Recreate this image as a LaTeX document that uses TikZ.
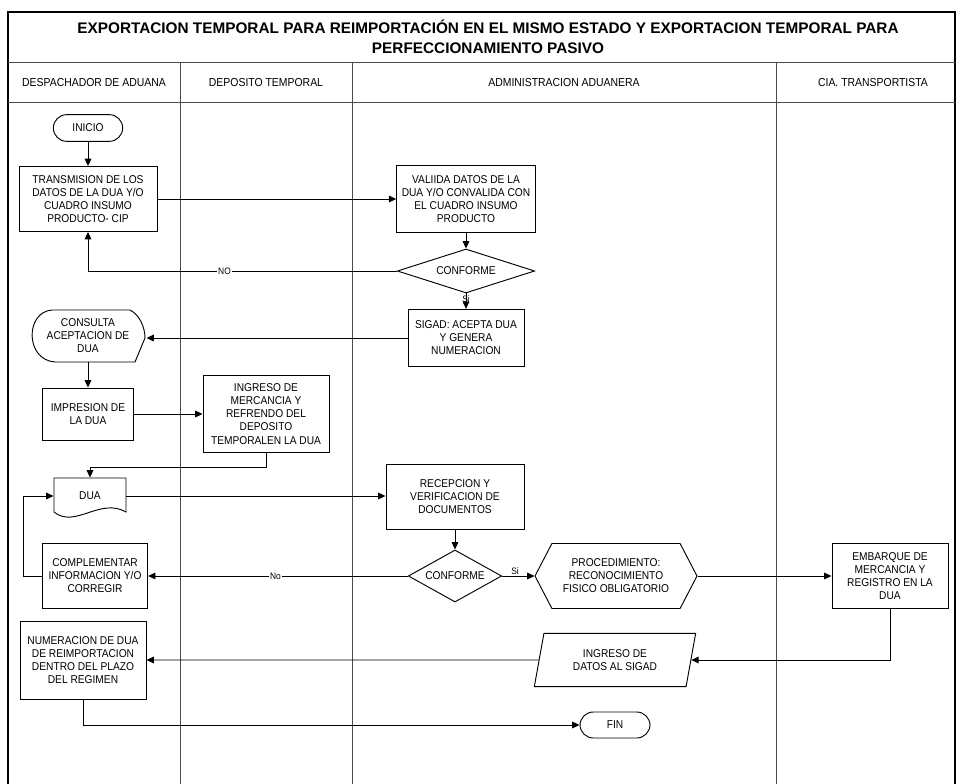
\documentclass[tikz,border=0pt]{standalone}
\usepackage{fontspec}
\setmainfont{Liberation Sans}[FakeStretch=0.9]
\newfontfamily\titlefont{Liberation Sans}
\usepackage{tikz}
\usetikzlibrary{arrows, arrows.meta}
\usetikzlibrary{shapes.geometric, shapes.symbols}

\tikzset{
    lane/.style={black!70, line width=0.75pt},
    txtbox/.style={draw, fill=white, rectangle, align=center, inner sep=1pt, font=\fontsize{8.5}{9.8}\selectfont},
    termbox/.style={txtbox, rounded corners=10pt},
    decision/.style={txtbox, diamond, inner sep=0pt},
    lanehead/.style={font=\fontsize{8.7}{10}\selectfont},
    flowlabel/.style={font=\fontsize{7}{8}\selectfont, inner sep=1pt},
}

\begin{document}
\begin{tikzpicture}[x=0.75pt, y=-0.75pt, line width=0.7pt, >={Triangle[length=5.5pt,width=5pt]}]
    \useasboundingbox (0,0) rectangle (957,784);
    \draw[black, line width=1pt] (8,790) -- (8,12) -- (955,12) -- (955,790);
    \draw[lane] (8,63) -- (955,63);
    \draw[lane] (8,103) -- (955,103);
    \draw[lane] (180,63) -- (180,790);
    \draw[lane] (352,63) -- (352,790);
    \draw[lane] (776,63) -- (776,790);
    \node[font=\titlefont\bfseries\fontsize{11.5}{15}\selectfont, align=center] (title) at (488,37) {EXPORTACION TEMPORAL PARA REIMPORTACIÓN EN EL MISMO ESTADO Y EXPORTACION TEMPORAL PARA\\PERFECCIONAMIENTO PASIVO};
    \node[lanehead] (hdespacho) at (94,83) {DESPACHADOR DE ADUANA};
    \node[lanehead] (hdeposito) at (266,83) {DEPOSITO TEMPORAL};
    \node[lanehead] (haduana) at (564,83) {ADMINISTRACION ADUANERA};
    \node[lanehead] (htransp) at (873,83) {CIA. TRANSPORTISTA};

    \node[termbox, minimum width=52pt, minimum height=20pt] (inicio) at (88,128) {INICIO};
    \node[txtbox, minimum width=103.5pt, minimum height=48.75pt] (transm) at (88,199) {TRANSMISION DE LOS\\DATOS DE LA  DUA Y/O\\CUADRO INSUMO\\PRODUCTO- CIP};
    \node[txtbox, minimum width=104pt, minimum height=50pt] (valida) at (466,199) {VALIIDA DATOS DE LA\\DUA Y/O CONVALIDA CON\\EL CUADRO INSUMO\\PRODUCTO};
    \node[decision, aspect=3.1, minimum width=103pt, minimum height=33pt] (conf1) at (466,271) {CONFORME};
    \node[txtbox, minimum width=87pt, minimum height=43pt] (sigad) at (466,338) {SIGAD: ACEPTA DUA\\Y GENERA\\NUMERACION};
    \node[txtbox, draw=none, fill=none, minimum width=87pt, minimum height=39pt] (consulta) at (88,336) {CONSULTA\\ACEPTACION DE\\DUA};
    \draw[shift={(consulta.center)}] (-36,-26) -- (42,-26) .. controls (52,-21) and (57,-8) .. (57,2) -- (47,26) -- (-33,26) .. controls (-63,24) and (-63,-24) .. cycle;
    \node[txtbox, minimum width=68pt, minimum height=39pt] (impres) at (88,414) {IMPRESION DE\\LA DUA};
    \node[txtbox, minimum width=94.5pt, minimum height=58pt] (ingreso) at (266,414) {INGRESO DE\\MERCANCIA Y\\REFRENDO DEL\\DEPOSITO\\TEMPORALEN LA DUA};
    \node[txtbox, draw=none, fill=none, minimum width=54pt, minimum height=27pt] (dua) at (90,496) {DUA};
    \draw[shift={(dua.center)}] (-36,-18) -- (36,-18) -- (36,16) .. controls (10,1) and (-15,33) .. (-36,16) -- cycle;
    \node[txtbox, minimum width=103.5pt, minimum height=48.75pt] (recep) at (455,497) {RECEPCION Y\\VERIFICACION DE\\DOCUMENTOS};
    \node[decision, aspect=1.8, minimum width=70pt, minimum height=39pt] (conf2) at (455,576) {CONFORME};
    \node[txtbox, signal, signal to=west and east, signal pointer angle=125, inner sep=0pt, minimum width=121.5pt, minimum height=48.75pt] (proced) at (616,576) {PROCEDIMIENTO:\\RECONOCIMIENTO\\FISICO OBLIGATORIO};
    \node[txtbox, minimum width=87pt, minimum height=48.75pt] (embarq) at (890,576) {EMBARQUE DE\\MERCANCIA Y\\REGISTRO EN LA\\DUA};
    \node[txtbox, trapezium, trapezium left angle=68, trapezium right angle=112, trapezium stretches body, minimum width=121pt, minimum height=40pt] (datos) at (615,660) {INGRESO DE\\DATOS AL SIGAD};
    \node[txtbox, minimum width=79pt, minimum height=48.75pt] (complem) at (95,576) {COMPLEMENTAR\\INFORMACION Y/O\\CORREGIR};
    \node[txtbox, minimum width=94.5pt, minimum height=58.5pt] (numer) at (83,660) {NUMERACION DE DUA\\DE REIMPORTACION\\DENTRO DEL PLAZO\\DEL REGIMEN};
    \node[termbox, minimum width=52.5pt, minimum height=19.5pt] (fin) at (615,725) {FIN};

    \draw[black, ->] (inicio) -- (transm);
    \draw[black, ->] (transm.east) -- (transm.east -| valida.west);
    \draw[black, ->] (valida) -- (conf1);
    \draw[black, ->] (conf1.west) -| node[flowlabel, fill=white, pos=0.279] {NO} (transm.south);
    \draw[black, ->] (conf1.south) -- node[flowlabel, pos=0.4] {Si} (sigad.north);
    \draw[black, ->] (sigad.west) -- (sigad.west -| consulta.east);
    \draw[black, ->] (consulta.south) -- (impres.north);
    \draw[black, ->] (impres) -- (ingreso);
    \draw[black, ->] (ingreso.south) -- ++(0,14) -| (dua.north);
    \draw[black, ->] (dua.east) -- (dua.east -| recep.west);
    \draw[black, ->] (recep) -- (conf2);
    \draw[black, ->] (conf2.east) -- node[flowlabel, above, pos=0.4] {Si} (proced.west);
    \draw[black, ->] (conf2.west) -- node[flowlabel, fill=white, pos=0.51] {No} (complem.east);
    \draw[black, ->] (complem.west) -- ++(-18,0) |- (dua.west);
    \draw[black, ->] (proced.east) -- (embarq.west);
    \draw[black, ->] (embarq.south) |- (datos.east);
    \draw[black, ->] (datos.west) -- (numer.east);
    \draw[black, ->] (numer.south) |- (fin.west);
\end{tikzpicture}
\end{document}
